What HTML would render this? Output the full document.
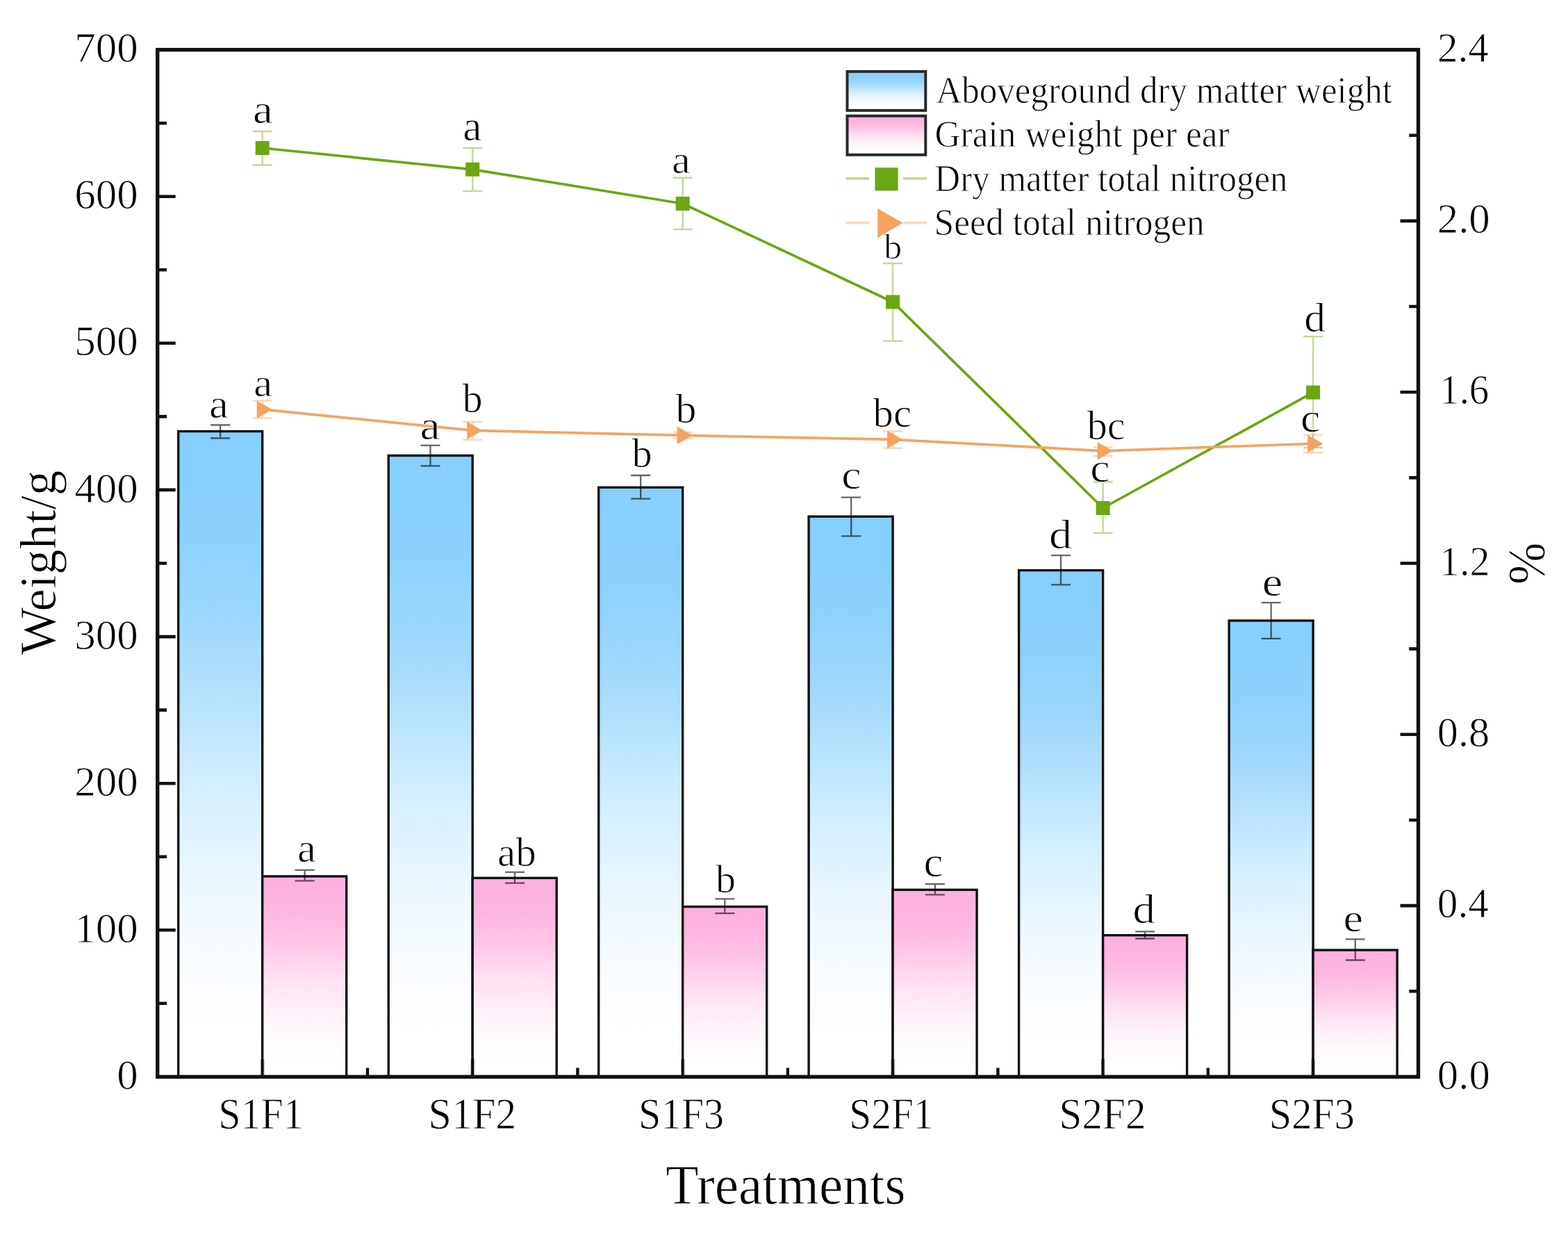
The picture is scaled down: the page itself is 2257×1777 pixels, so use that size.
<!DOCTYPE html>
<html lang="en"><head><meta charset="utf-8"><title>Weight and nitrogen by treatment</title>
<style>html,body{margin:0;padding:0;background:#fff}body{width:2257px;height:1777px;overflow:hidden}svg{display:block}text{font-family:"Liberation Serif",serif;fill:#000;stroke:#fff;stroke-width:0.9px;stroke-linejoin:round}</style>
</head><body>
<svg width="2257" height="1777" viewBox="0 0 2257 1777">
<defs>
<linearGradient id="gb" x1="0" y1="0" x2="0" y2="1"><stop offset="0.0000" stop-color="#85cffe"/><stop offset="0.0357" stop-color="#86cffe"/><stop offset="0.0714" stop-color="#87d0fe"/><stop offset="0.1071" stop-color="#89d0fe"/><stop offset="0.1429" stop-color="#8bd1fe"/><stop offset="0.1786" stop-color="#8ed2fe"/><stop offset="0.2143" stop-color="#92d4fe"/><stop offset="0.2500" stop-color="#97d6fe"/><stop offset="0.2857" stop-color="#9cd8fe"/><stop offset="0.3214" stop-color="#a2dafe"/><stop offset="0.3571" stop-color="#aaddfe"/><stop offset="0.3929" stop-color="#b1e0fe"/><stop offset="0.4286" stop-color="#b9e4fe"/><stop offset="0.4643" stop-color="#c1e7fe"/><stop offset="0.5000" stop-color="#c9eaff"/><stop offset="0.5357" stop-color="#d1edff"/><stop offset="0.5714" stop-color="#d8f0ff"/><stop offset="0.6071" stop-color="#def2ff"/><stop offset="0.6429" stop-color="#e3f4ff"/><stop offset="0.6786" stop-color="#e9f6ff"/><stop offset="0.7143" stop-color="#edf8ff"/><stop offset="0.7500" stop-color="#f1faff"/><stop offset="0.7857" stop-color="#f5fbff"/><stop offset="0.8214" stop-color="#f9fcff"/><stop offset="0.8571" stop-color="#fbfdff"/><stop offset="0.8929" stop-color="#fdfeff"/><stop offset="0.9286" stop-color="#ffffff"/><stop offset="0.9643" stop-color="#ffffff"/><stop offset="1.0000" stop-color="#ffffff"/></linearGradient>
<linearGradient id="gp" x1="0" y1="0" x2="0" y2="1"><stop offset="0.0000" stop-color="#ffb1de"/><stop offset="0.0357" stop-color="#ffb1de"/><stop offset="0.0714" stop-color="#ffb2df"/><stop offset="0.1071" stop-color="#ffb4df"/><stop offset="0.1429" stop-color="#ffb5e0"/><stop offset="0.1786" stop-color="#ffb7e1"/><stop offset="0.2143" stop-color="#ffbae2"/><stop offset="0.2500" stop-color="#ffbde3"/><stop offset="0.2857" stop-color="#ffc1e5"/><stop offset="0.3214" stop-color="#ffc5e6"/><stop offset="0.3571" stop-color="#ffcae8"/><stop offset="0.3929" stop-color="#ffcfeb"/><stop offset="0.4286" stop-color="#ffd4ed"/><stop offset="0.4643" stop-color="#ffd9ef"/><stop offset="0.5000" stop-color="#ffdef1"/><stop offset="0.5357" stop-color="#ffe3f3"/><stop offset="0.5714" stop-color="#ffe7f5"/><stop offset="0.6071" stop-color="#ffebf6"/><stop offset="0.6429" stop-color="#ffeef8"/><stop offset="0.6786" stop-color="#fff2f9"/><stop offset="0.7143" stop-color="#fff4fb"/><stop offset="0.7500" stop-color="#fff7fc"/><stop offset="0.7857" stop-color="#fff9fd"/><stop offset="0.8214" stop-color="#fffbfd"/><stop offset="0.8571" stop-color="#fffdfe"/><stop offset="0.8929" stop-color="#fffeff"/><stop offset="0.9286" stop-color="#ffffff"/><stop offset="0.9643" stop-color="#ffffff"/><stop offset="1.0000" stop-color="#ffffff"/></linearGradient>
</defs>
<rect x="0" y="0" width="2257" height="1777" fill="#ffffff"/>
<g stroke="#111" stroke-width="3.4" stroke-linejoin="miter">
<rect x="256.7" y="620.6" width="121.0" height="928.8" fill="url(#gb)"/>
<rect x="377.7" y="1260.9" width="121.0" height="288.5" fill="url(#gp)"/>
<rect x="559.2" y="655.5" width="121.0" height="893.9" fill="url(#gb)"/>
<rect x="680.2" y="1263.3" width="121.0" height="286.1" fill="url(#gp)"/>
<rect x="861.7" y="701.3" width="121.0" height="848.1" fill="url(#gb)"/>
<rect x="982.7" y="1304.6" width="121.0" height="244.8" fill="url(#gp)"/>
<rect x="1164.1" y="743.2" width="121.0" height="806.2" fill="url(#gb)"/>
<rect x="1285.1" y="1280.3" width="121.0" height="269.1" fill="url(#gp)"/>
<rect x="1466.6" y="820.6" width="121.0" height="728.8" fill="url(#gb)"/>
<rect x="1587.6" y="1345.7" width="121.0" height="203.7" fill="url(#gp)"/>
<rect x="1769.1" y="893.0" width="121.0" height="656.4" fill="url(#gb)"/>
<rect x="1890.1" y="1367.0" width="121.0" height="182.4" fill="url(#gp)"/>
</g>
<path d="M303.1 611.5H331.1M303.1 630.5H331.1M317.1 611.5V630.5" fill="none" stroke="#000" stroke-opacity="0.6" stroke-width="2.3"/>
<path d="M424.6 1251.9H452.6M424.6 1267.4H452.6M438.6 1251.9V1267.4" fill="none" stroke="#000" stroke-opacity="0.6" stroke-width="2.3"/>
<path d="M605.5 640.8H633.5M605.5 670.4H633.5M619.5 640.8V670.4" fill="none" stroke="#000" stroke-opacity="0.6" stroke-width="2.3"/>
<path d="M727.0 1254.9H755.0M727.0 1270.7H755.0M741.0 1254.9V1270.7" fill="none" stroke="#000" stroke-opacity="0.6" stroke-width="2.3"/>
<path d="M908.2 684.0H936.2M908.2 717.7H936.2M922.2 684.0V717.7" fill="none" stroke="#000" stroke-opacity="0.6" stroke-width="2.3"/>
<path d="M1029.3 1293.4H1057.3M1029.3 1314.1H1057.3M1043.3 1293.4V1314.1" fill="none" stroke="#000" stroke-opacity="0.6" stroke-width="2.3"/>
<path d="M1211.2 715.6H1239.2M1211.2 771.4H1239.2M1225.2 715.6V771.4" fill="none" stroke="#000" stroke-opacity="0.6" stroke-width="2.3"/>
<path d="M1331.9 1272.0H1359.9M1331.9 1287.3H1359.9M1345.9 1272.0V1287.3" fill="none" stroke="#000" stroke-opacity="0.6" stroke-width="2.3"/>
<path d="M1513.0 799.2H1541.0M1513.0 841.4H1541.0M1527.0 799.2V841.4" fill="none" stroke="#000" stroke-opacity="0.6" stroke-width="2.3"/>
<path d="M1634.2 1340.3H1662.2M1634.2 1350.5H1662.2M1648.2 1340.3V1350.5" fill="none" stroke="#000" stroke-opacity="0.6" stroke-width="2.3"/>
<path d="M1815.6 867.1H1843.6M1815.6 918.9H1843.6M1829.6 867.1V918.9" fill="none" stroke="#000" stroke-opacity="0.6" stroke-width="2.3"/>
<path d="M1936.8 1351.3H1964.8M1936.8 1381.5H1964.8M1950.8 1351.3V1381.5" fill="none" stroke="#000" stroke-opacity="0.6" stroke-width="2.3"/>
<path d="M377.7 1549.4v-25.5M680.2 1549.4v-25.5M982.7 1549.4v-25.5M1285.1 1549.4v-25.5M1587.6 1549.4v-25.5M1890.1 1549.4v-25.5" fill="none" stroke="#000" stroke-opacity="0.45" stroke-width="5.4"/>
<path d="M529.0 1549.4v-13.0M831.4 1549.4v-13.0M1133.9 1549.4v-13.0M1436.4 1549.4v-13.0M1738.8 1549.4v-13.0" fill="none" stroke="#111" stroke-width="4.4"/>
<rect x="226.7" y="71.6" width="1814.8" height="1477.8" fill="none" stroke="#111" stroke-width="5.4"/>
<path d="M226.7 1443.8h13.3M226.7 1338.3h26.0M226.7 1232.7h13.3M226.7 1127.2h26.0M226.7 1021.6h13.3M226.7 916.1h26.0M226.7 810.5h13.3M226.7 704.9h26.0M226.7 599.4h13.3M226.7 493.8h26.0M226.7 388.3h13.3M226.7 282.7h26.0M226.7 177.2h13.3M2041.5 1426.2h-13.3M2041.5 1303.1h-26.0M2041.5 1180.0h-13.3M2041.5 1056.8h-26.0M2041.5 933.6h-13.3M2041.5 810.5h-26.0M2041.5 687.4h-13.3M2041.5 564.2h-26.0M2041.5 441.0h-13.3M2041.5 317.9h-26.0M2041.5 194.7h-13.3" fill="none" stroke="#111" stroke-width="4.6"/>
<path d="M363.7 188.9H391.7M363.7 237.4H391.7M377.7 188.9V237.4" fill="none" stroke="#6aa712" stroke-opacity="0.42" stroke-width="2.5"/>
<path d="M666.2 213.0H694.2M666.2 275.1H694.2M680.2 213.0V275.1" fill="none" stroke="#6aa712" stroke-opacity="0.42" stroke-width="2.5"/>
<path d="M968.7 255.8H996.7M968.7 329.9H996.7M982.7 255.8V329.9" fill="none" stroke="#6aa712" stroke-opacity="0.42" stroke-width="2.5"/>
<path d="M1271.1 378.9H1299.1M1271.1 490.7H1299.1M1285.1 378.9V490.7" fill="none" stroke="#6aa712" stroke-opacity="0.42" stroke-width="2.5"/>
<path d="M1573.6 693.4H1601.6M1573.6 767.1H1601.6M1587.6 693.4V767.1" fill="none" stroke="#6aa712" stroke-opacity="0.42" stroke-width="2.5"/>
<path d="M1876.1 484.2H1904.1M1876.1 644.3H1904.1M1890.1 484.2V644.3" fill="none" stroke="#6aa712" stroke-opacity="0.42" stroke-width="2.5"/>
<polyline points="377.7,213.0 680.2,243.8 982.7,293.0 1285.1,434.5 1587.6,731.0 1890.1,564.7" fill="none" stroke="#6aa712" stroke-width="3.7" stroke-linejoin="round"/>
<rect x="367.7" y="203.0" width="20" height="20" fill="#6aa712"/>
<rect x="670.2" y="233.8" width="20" height="20" fill="#6aa712"/>
<rect x="972.7" y="283.0" width="20" height="20" fill="#6aa712"/>
<rect x="1275.1" y="424.5" width="20" height="20" fill="#6aa712"/>
<rect x="1577.6" y="721.0" width="20" height="20" fill="#6aa712"/>
<rect x="1880.1" y="554.7" width="20" height="20" fill="#6aa712"/>
<path d="M363.7 576.5H391.7M363.7 601.4H391.7M377.7 576.5V601.4" fill="none" stroke="#f4a460" stroke-opacity="0.45" stroke-width="2.5"/>
<path d="M666.2 607.0H694.2M666.2 632.8H694.2M680.2 607.0V632.8" fill="none" stroke="#f4a460" stroke-opacity="0.45" stroke-width="2.5"/>
<path d="M968.7 622.0H996.7M968.7 630.8H996.7M982.7 622.0V630.8" fill="none" stroke="#f4a460" stroke-opacity="0.45" stroke-width="2.5"/>
<path d="M1271.1 620.4H1299.1M1271.1 644.7H1299.1M1285.1 620.4V644.7" fill="none" stroke="#f4a460" stroke-opacity="0.45" stroke-width="2.5"/>
<path d="M1573.6 643.6H1601.6M1573.6 656.1H1601.6M1587.6 643.6V656.1" fill="none" stroke="#f4a460" stroke-opacity="0.45" stroke-width="2.5"/>
<path d="M1876.1 625.7H1904.1M1876.1 651.2H1904.1M1890.1 625.7V651.2" fill="none" stroke="#f4a460" stroke-opacity="0.45" stroke-width="2.5"/>
<polyline points="377.7,589.2 680.2,619.4 982.7,626.4 1285.1,632.4 1587.6,648.8 1890.1,638.4" fill="none" stroke="#f4a460" stroke-width="3.7" stroke-linejoin="round"/>
<path d="M369.7 576.4L391.9 589.2L369.7 602.0Z" fill="#f4a460"/>
<path d="M672.2 606.6L694.4 619.4L672.2 632.2Z" fill="#f4a460"/>
<path d="M974.7 613.6L996.9 626.4L974.7 639.2Z" fill="#f4a460"/>
<path d="M1277.1 619.6L1299.3 632.4L1277.1 645.2Z" fill="#f4a460"/>
<path d="M1579.6 636.0L1601.8 648.8L1579.6 661.6Z" fill="#f4a460"/>
<path d="M1882.1 625.6L1904.3 638.4L1882.1 651.2Z" fill="#f4a460"/>
<g>
<text x="168.24" y="1567.00" font-size="61.0">0</text>
<text x="107.24" y="1355.89" font-size="61.0">100</text>
<text x="107.24" y="1144.77" font-size="61.0">200</text>
<text x="107.24" y="933.66" font-size="61.0">300</text>
<text x="107.24" y="722.54" font-size="61.0">400</text>
<text x="107.24" y="511.43" font-size="61.0">500</text>
<text x="107.24" y="300.31" font-size="61.0">600</text>
<text x="107.24" y="89.20" font-size="61.0">700</text>
<text transform="translate(2068.77 1566.59) scale(1.0020 1)" font-size="60.74">0.0</text>
<text transform="translate(2068.83 1320.29) scale(0.9755 1)" font-size="60.74">0.4</text>
<text transform="translate(2068.79 1073.99) scale(0.9935 1)" font-size="60.74">0.8</text>
<text transform="translate(2072.08 827.68) scale(0.9481 1)" font-size="61.19">1.2</text>
<text transform="translate(2072.18 581.38) scale(0.9300 1)" font-size="61.19">1.6</text>
<text transform="translate(2068.66 335.09) scale(1.0034 1)" font-size="60.74">2.0</text>
<text transform="translate(2069.04 88.78) scale(0.9655 1)" font-size="61.19">2.4</text>
<text transform="translate(314.13 1623.67) scale(0.9192 1)" font-size="63.13">S1F1</text>
<text transform="translate(616.60 1623.67) scale(0.9504 1)" font-size="63.13">S1F2</text>
<text transform="translate(919.11 1623.67) scale(0.9228 1)" font-size="63.13">S1F3</text>
<text transform="translate(1222.37 1623.67) scale(0.9081 1)" font-size="63.13">S2F1</text>
<text transform="translate(1524.56 1623.67) scale(0.9368 1)" font-size="63.13">S2F2</text>
<text transform="translate(1826.70 1623.67) scale(0.9251 1)" font-size="63.13">S2F3</text>
</g>
<g>
<text transform="translate(363.93 176.71) scale(1.0955 1)" font-size="59.16">a</text>
<text transform="translate(666.16 202.29) scale(1.0070 1)" font-size="60.84">a</text>
<text transform="translate(966.99 248.53) scale(1.0484 1)" font-size="57.47">a</text>
<text transform="translate(1272.20 372.19) scale(1.0103 1)" font-size="51.43">b</text>
<text transform="translate(1569.25 693.21) scale(1.0848 1)" font-size="58.75">c</text>
<text transform="translate(1877.24 477.32) scale(1.0596 1)" font-size="58.29">d</text>
<text transform="translate(364.95 569.53) scale(1.0704 1)" font-size="57.47">a</text>
<text transform="translate(665.50 593.21) scale(0.9827 1)" font-size="59.29">b</text>
<text transform="translate(972.40 608.12) scale(1.0257 1)" font-size="58.29">b</text>
<text transform="translate(1256.50 613.51) scale(1.0014 1)" font-size="58.71">bc</text>
<text transform="translate(1564.80 631.52) scale(0.9957 1)" font-size="58.29">bc</text>
<text transform="translate(1872.05 621.20) scale(1.0622 1)" font-size="60.00">c</text>
<text transform="translate(301.00 600.51) scale(1.0728 1)" font-size="58.53">a</text>
<text transform="translate(604.50 632.01) scale(1.1127 1)" font-size="59.16">a</text>
<text transform="translate(909.50 672.42) scale(0.9996 1)" font-size="58.29">b</text>
<text transform="translate(1211.14 703.12) scale(1.0971 1)" font-size="58.33">c</text>
<text transform="translate(1510.08 788.52) scale(1.1322 1)" font-size="58.43">d</text>
<text transform="translate(1816.74 857.41) scale(1.1357 1)" font-size="58.54">e</text>
<text transform="translate(427.88 1240.40) scale(1.0049 1)" font-size="60.21">a</text>
<text transform="translate(715.93 1245.72) scale(1.0112 1)" font-size="58.43">ab</text>
<text transform="translate(1029.90 1284.13) scale(1.0132 1)" font-size="57.29">b</text>
<text transform="translate(1329.47 1261.40) scale(1.0497 1)" font-size="60.21">c</text>
<text transform="translate(1630.43 1328.41) scale(1.0936 1)" font-size="59.29">d</text>
<text transform="translate(1933.62 1340.42) scale(1.1234 1)" font-size="57.50">e</text>
</g>
<text transform="translate(958.35 1732.20) scale(0.9708 1)" font-size="79.70">Treatments</text>
<text transform="translate(80.49 942.80) rotate(-90) scale(1.0023 1)" font-size="72.93">Weight/g</text>
<text transform="translate(2223.05 840.94) rotate(-90) scale(0.9472 1)" font-size="76.59">%</text>
<rect x="1219.5" y="102.9" width="112.8" height="56.0" fill="url(#gb)" stroke="#2a2a2a" stroke-width="4"/>
<rect x="1219.5" y="166.8" width="112.8" height="56.0" fill="url(#gp)" stroke="#2a2a2a" stroke-width="4"/>
<path d="M1217.6 256.9H1251M1300 256.9H1334.4" stroke="#6aa712" stroke-opacity="0.42" stroke-width="3.6" fill="none"/>
<rect x="1259.4" y="241.2" width="33.2" height="33.2" fill="#6aa712"/>
<path d="M1217.6 320.6H1251M1300 320.6H1334.4" stroke="#f4a460" stroke-opacity="0.42" stroke-width="3.6" fill="none"/>
<path d="M1263.2 300L1299.6 320.8L1263.2 342Z" fill="#f4a460"/>
<text transform="translate(1347.39 148.40) scale(0.9354 1)" font-size="54.6">Aboveground dry matter weight</text>
<text transform="translate(1345.44 211.00) scale(0.9425 1)" font-size="54.6">Grain weight per ear</text>
<text transform="translate(1345.37 274.50) scale(0.9339 1)" font-size="54.6">Dry matter total nitrogen</text>
<text transform="translate(1344.55 337.80) scale(0.9441 1)" font-size="54.6">Seed total nitrogen</text>
</svg>
</body></html>
